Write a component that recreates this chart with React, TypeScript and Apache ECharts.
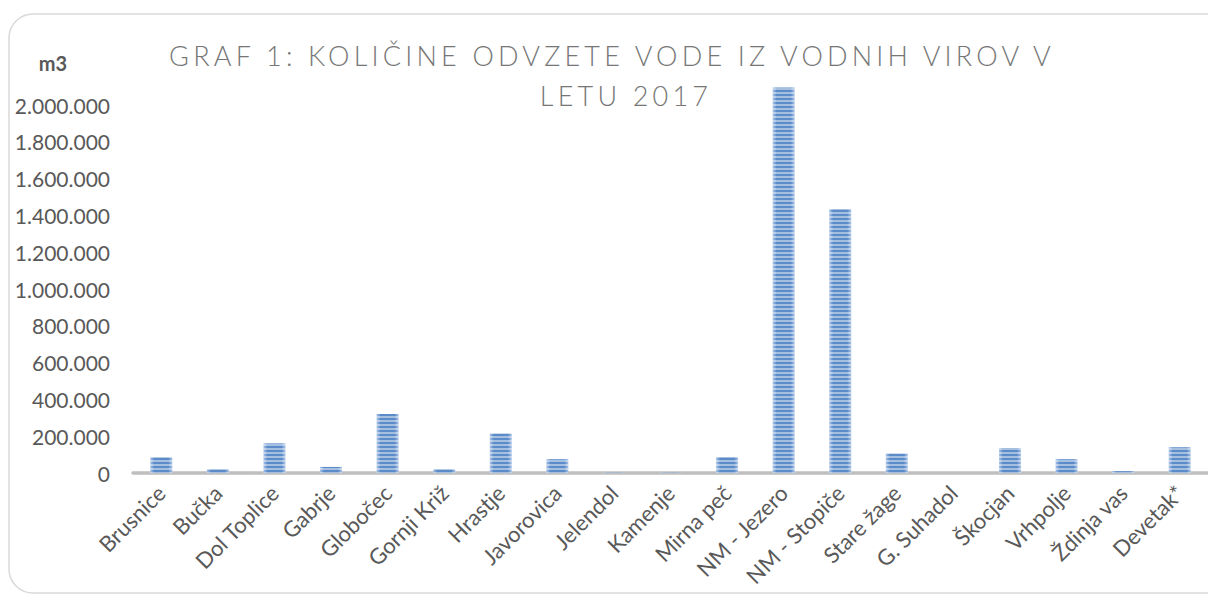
import React, { useEffect, useRef } from "react";
import * as echarts from "echarts";

const categories: string[] = [
  "Brusnice", "Bučka", "Dol Toplice", "Gabrje", "Globočec", "Gornji Križ", "Hrastje",
  "Javorovica", "Jelendol", "Kamenje", "Mirna peč", "NM - Jezero", "NM - Stopiče",
  "Stare žage", "G. Suhadol", "Škocjan", "Vrhpolje", "Ždinja vas", "Devetak*",
];
const values: number[] = [
  85000, 20000, 161000, 33000, 321000, 20000, 214000,
  75000, 2000, 2000, 87000, 2095000, 1435000,
  105000, 0, 136000, 75000, 10000, 140000,
];
const titleLine1 = "GRAF 1: KOLIČINE ODVZETE VODE IZ VODNIH VIROV V";
const titleLine2 = "LETU 2017";
const yAxisTitle = "m3";
const yMax = 2200000;
const yInterval = 200000;

const fmt = (v: number) => String(Math.round(v)).replace(/\B(?=(\d{3})+(?!\d))/g, ".");

export default function App() {
  const ref = useRef<HTMLDivElement>(null);
  useEffect(() => {
    if (!ref.current) return;
    const chart = echarts.init(ref.current, undefined, { renderer: "svg" });
    const labelColor = "#595959";
    chart.setOption({
      animation: false,
      backgroundColor: "#ffffff",
      graphic: [
        {
          type: "rect",
          z: -10,
          shape: { x: 9, y: 14, width: 1240, height: 579, r: 24 },
          style: { fill: "#ffffff", stroke: "#d9d9d9", lineWidth: 1.5 },
          silent: true,
        },
        {
          type: "text",
          x: 612,
          y: 55,
          style: {
            text: titleLine1,
            fill: "#767676",
            font: "300 27px Lato, sans-serif",
            textAlign: "center",
            textVerticalAlign: "middle",
          },
        },
        {
          type: "text",
          x: 626,
          y: 95,
          style: {
            text: titleLine2,
            fill: "#767676",
            font: "300 27px Lato, sans-serif",
            textAlign: "center",
            textVerticalAlign: "middle",
          },
        },
        {
          type: "text",
          x: 53,
          y: 63,
          style: {
            text: yAxisTitle,
            fill: labelColor,
            font: "bold 20px Lato, sans-serif",
            textAlign: "center",
            textVerticalAlign: "middle",
          },
        },
      ],
      grid: { left: 133, right: -6, top: 68.2, bottom: 124, containLabel: false },
      xAxis: {
        type: "category",
        data: categories,
        axisLine: { lineStyle: { color: "#bfbfbf", width: 3.5 } },
        axisTick: { show: false },
        axisLabel: {
          rotate: 45,
          interval: 0,
          margin: 16,
          color: labelColor,
          fontFamily: "Lato, sans-serif",
          fontSize: 22,
        },
      },
      yAxis: {
        type: "value",
        min: 0,
        max: yMax,
        interval: yInterval,
        axisLine: { show: false },
        axisTick: { show: false },
        splitLine: { show: false },
        axisLabel: {
          margin: 23,
          color: labelColor,
          fontFamily: "Lato, sans-serif",
          fontSize: 21,
          formatter: (v: number) => (v > 2000000 ? "" : fmt(v)),
        },
      },
      series: [
        {
          type: "bar",
          data: values,
          barWidth: 22,
          itemStyle: {
            color: {
              type: "linear",
              x: 0, y: 0, x2: 1, y2: 0,
              colorStops: [
                { offset: 0, color: "#a9c3e6" },
                { offset: 0.18, color: "#5b8bc9" },
                { offset: 0.82, color: "#5b8bc9" },
                { offset: 1, color: "#a9c3e6" },
              ],
            },
            decal: {
              symbol: "rect",
              symbolSize: 1,
              dashArrayX: [1, 0],
              dashArrayY: [2, 2],
              rotation: 0,
              color: "rgba(255,255,255,0.45)",
            },
          },
        },
      ],
    });
    return () => chart.dispose();
  }, []);
  return (
    <>
      <style>{`text[fill="#767676"]{letter-spacing:4.2px;}`}</style>
      <div
        ref={ref}
        style={{ position: "fixed", left: 0, top: 0, width: 1208, height: 597 }}
      />
    </>
  );
}
